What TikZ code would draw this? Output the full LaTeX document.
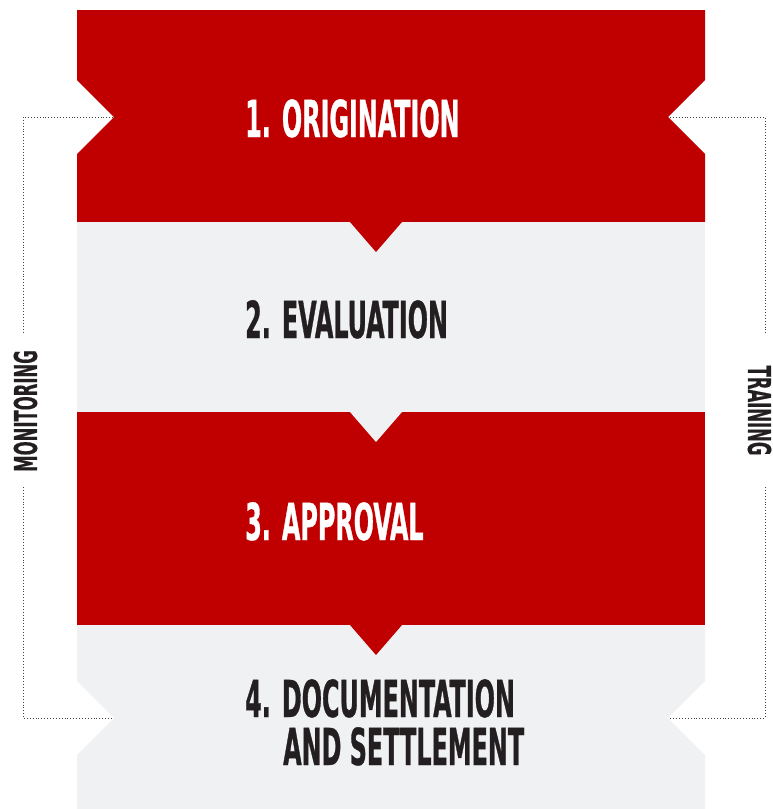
\documentclass[tikz,border=0pt]{standalone}
\usepackage{fontspec}
\newfontfamily\condfont[FakeStretch=0.52,FakeBold=0.6]{DejaVu Sans Condensed}
\newfontfamily\sidefont[FakeStretch=0.58,FakeBold=0.4]{DejaVu Sans Condensed}
\definecolor{bred}{HTML}{C00000}
\definecolor{bgray}{HTML}{F0F1F3}
\definecolor{dtext}{HTML}{231F20}
\begin{document}
\begin{tikzpicture}[x=1pt,y=-1pt,
  stagelbl/.style={anchor=base west,inner sep=0pt,font=\condfont\bfseries\fontsize{51}{51}\selectfont},
  sidelbl/.style={inner sep=0pt,text=dtext,font=\sidefont\bfseries\fontsize{31.5}{31.5}\selectfont},
  bracket/.style={draw=black!75,dotted,line width=0.9pt}]
\useasboundingbox (0,0) rectangle (772,809);
\clip (0,0) rectangle (772,809);
% block 1 red with side notches
\fill[bred] (77,10) -- (705,10) -- (705,80) -- (668,117) -- (705,154) -- (705,222)
  -- (77,222) -- (77,154) -- (114,117) -- (77,80) -- cycle;
% block 2 gray
\fill[bgray] (77,222) rectangle (705,412);
% block 3 red
\fill[bred] (77,412) rectangle (705,625);
% block 4 gray with side notches
\fill[bgray] (77,625) -- (705,625) -- (705,681) -- (668,718) -- (705,755) -- (705,809)
  -- (77,809) -- (77,755) -- (114,718) -- (77,681) -- cycle;
% pointers
\fill[bred] (350,222) -- (402,222) -- (376,252) -- cycle;
\fill[bgray] (350,412) -- (402,412) -- (376,442) -- cycle;
\fill[bred] (350,625) -- (402,625) -- (376,655) -- cycle;
% labels
\node[stagelbl,text=white] (s1) at (245,137) {1. ORIGINATION};
\node[stagelbl,text=dtext] (s2) at (245,338) {2. EVALUATION};
\node[stagelbl,text=white] (s3) at (245,540) {3. APPROVAL};
\node[stagelbl,text=dtext] (s4a) at (245,717) {4. DOCUMENTATION};
\node[stagelbl,text=dtext] (s4b) at (283,765) {AND SETTLEMENT};
% side labels
\node[sidelbl,rotate=90] (mon) at (25.5,411) {MONITORING};
\node[sidelbl,rotate=-90] (tra) at (759.5,410.5) {TRAINING};
% brackets
\coordinate (lt) at (113,117);
\coordinate (lc1) at (23,117);
\coordinate (le1) at (23,333);
\coordinate (le2) at (23,487);
\coordinate (lc2) at (23,718);
\coordinate (lb) at (112,718);
\coordinate (rt) at (670,117);
\coordinate (rc1) at (765,117);
\coordinate (re1) at (765,333);
\coordinate (re2) at (765,487);
\coordinate (rc2) at (765,718);
\coordinate (rb) at (670,718);
\draw[bracket] (lt) -- (lc1) -- (le1);
\draw[bracket] (le2) -- (lc2) -- (lb);
\draw[bracket] (rt) -- (rc1) -- (re1);
\draw[bracket] (re2) -- (rc2) -- (rb);
\end{tikzpicture}
\end{document}
